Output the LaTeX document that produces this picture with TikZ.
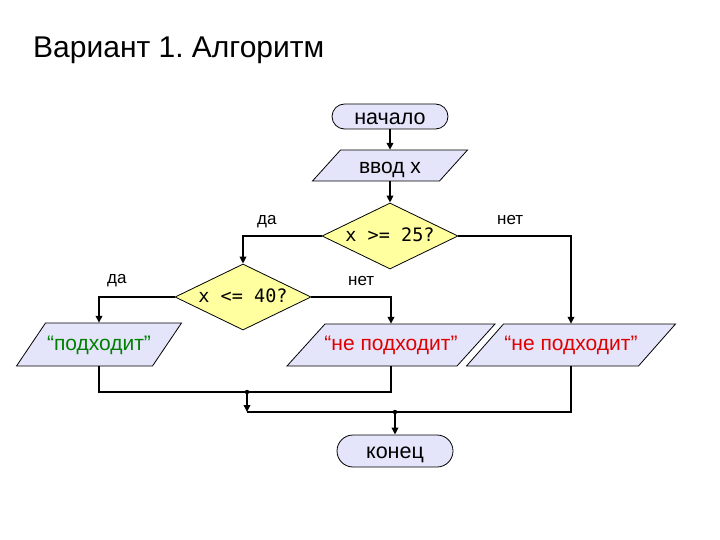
\documentclass[tikz,border=0pt]{standalone}
\usepackage{fontspec}
\setmainfont{Liberation Sans}
\newfontfamily\monof{DejaVu Sans Mono}
\usetikzlibrary{shapes.geometric,arrows.meta}
\definecolor{lav}{RGB}{228,228,250}
\definecolor{yel}{RGB}{255,255,160}
\definecolor{okgreen}{RGB}{0,128,0}
\definecolor{nored}{RGB}{225,0,0}
\frenchspacing
\newcommand\iobox[8][]{%
  \filldraw[iobody] ({#3-#5/2+#7/2},{#4-#6/2}) -- ({#3+#5/2+#7/2},{#4-#6/2}) -- ({#3+#5/2-#7/2},{#4+#6/2}) -- ({#3-#5/2-#7/2},{#4+#6/2}) -- cycle;
  \node[iotext, minimum width=#5pt, minimum height=#6pt, #1] (#2) at (#3,#4) {#8};
}
\begin{document}
\begin{tikzpicture}[x=1pt,y=-1pt,
  term/.style={draw, line width=0.8pt, fill=lav, rectangle, inner sep=0pt, text height=15.5pt, text depth=0pt, font=\fontsize{21.5}{22}\selectfont},
  iobody/.style={draw, line width=0.8pt, fill=lav},
  iotext/.style={inner sep=0pt, text height=11.5pt, text depth=0pt, font=\fontsize{21}{22}\selectfont},
  cond/.style={draw, line width=0.8pt, fill=yel, diamond, aspect=2.06, inner sep=0pt, minimum width=136pt, minimum height=66pt, text height=10pt, text depth=0pt, font=\monof\fontsize{18.5}{19}\selectfont},
  lbl/.style={inner sep=0pt, anchor=base west, font=\fontsize{17}{18}\selectfont},
  conn/.style={line width=2.2pt},
  arr/.style={conn, -{Triangle[length=7pt,width=6.5pt]}}]
\useasboundingbox (0,0) rectangle (720,540);
\node[inner sep=0pt, anchor=base west, font=\fontsize{30}{31}\selectfont] (title) at (33,58) {Вариант 1. Алгоритм};

\node[term, minimum width=116pt, minimum height=25pt, rounded corners=12.5pt] (start) at (390,116.5) {начало};
\iobox[text height=17pt]{in}{390}{165.5}{127}{31}{28}{ввод x}
\node[cond] (d1) at (390,236) {x >= 25?};
\node[cond] (d2) at (243,297) {x <= 40?};
\iobox{p1}{99}{344.5}{136}{43}{29}{\textcolor{okgreen}{“подходит”}}
\iobox{p2}{391}{345}{170}{42}{38}{\textcolor{nored}{“не подходит”}}
\iobox{p3}{571}{345}{172}{42}{37}{\textcolor{nored}{“не подходит”}}
\node[term, minimum width=116pt, minimum height=32pt, rounded corners=16pt] (end) at (395,451) {конец};

\draw[arr] (start) -- (in);
\draw[arr] (in) -- (d1);
\draw[arr] (d1.west) -| (d2.north);
\draw[arr] (d1.east) -| (p3.north);
\draw[arr] (d2.west) -| (p1.north);
\draw[arr] (d2.east) -| (p2.north);

\node[lbl] (l1) at (257,225) {да};
\node[lbl] (l2) at (497,225) {нет};
\node[lbl] (l3) at (107,283) {да};
\node[lbl] (l4) at (348,285) {нет};

\coordinate (j1) at (247,392);
\coordinate (j2) at (247,412);
\coordinate (j3) at (395,412);
\draw[conn] (p1.south) |- (p2.south |- j1) -- (p2.south);
\draw[arr] (j1) -- (j2);
\draw[conn] (j2) -- (p3.south |- j2) -- (p3.south);
\draw[arr] (j3) -- (end.north);
\fill (j1) circle (2.2pt);
\fill (j3) circle (2.2pt);
\end{tikzpicture}
\end{document}
